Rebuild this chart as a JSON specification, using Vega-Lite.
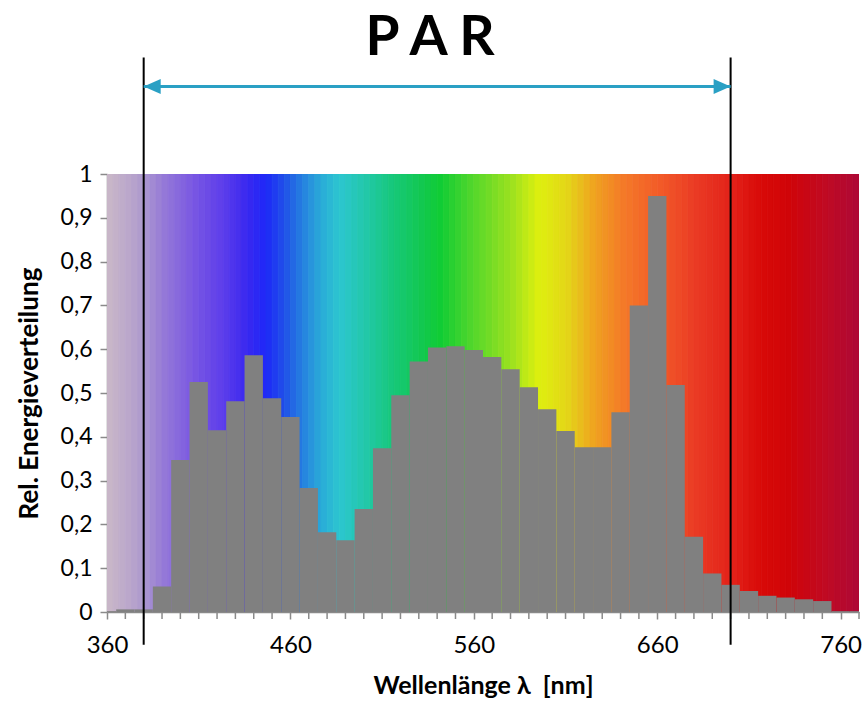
{
  "$schema": "https://vega.github.io/schema/vega-lite/v6.json",
  "autosize": {"type": "none"},
  "padding": {"left": 107, "top": 174, "right": 5, "bottom": 92},
  "width": 752,
  "height": 438,
  "background": "white",
  "title": {
    "text": "P A R",
    "font": "Lato",
    "fontSize": 55,
    "fontWeight": "bold",
    "color": "#000000",
    "anchor": "middle",
    "frame": "group",
    "dx": -53,
    "offset": -11
  },
  "config": {
    "view": {"stroke": null},
    "axis": {"grid": false, "labelFont": "Lato", "titleFont": "Lato", "labelColor": "#000000", "titleColor": "#000000", "domainColor": "#8a8a8a", "tickColor": "#8a8a8a", "domainWidth": 1.5, "tickWidth": 1.5, "labelOverlap": false, "labelFlush": false}
  },
  "datasets": {
    "stripes": [
      {"a":360,"b":363.33},{"a":363.33,"b":366.67},{"a":366.67,"b":370},
      {"a":370,"b":373.33},{"a":373.33,"b":376.67},{"a":376.67,"b":380},
      {"a":380,"b":383.33},{"a":383.33,"b":386.67},{"a":386.67,"b":390},
      {"a":390,"b":393.33},{"a":393.33,"b":396.67},{"a":396.67,"b":400},
      {"a":400,"b":403.33},{"a":403.33,"b":406.67},{"a":406.67,"b":410},
      {"a":410,"b":413.33},{"a":413.33,"b":416.67},{"a":416.67,"b":420},
      {"a":420,"b":423.33},{"a":423.33,"b":426.67},{"a":426.67,"b":430},
      {"a":430,"b":433.33},{"a":433.33,"b":436.67},{"a":436.67,"b":440},
      {"a":440,"b":443.33},{"a":443.33,"b":446.67},{"a":446.67,"b":450},
      {"a":450,"b":453.33},{"a":453.33,"b":456.67},{"a":456.67,"b":460},
      {"a":460,"b":463.33},{"a":463.33,"b":466.67},{"a":466.67,"b":470},
      {"a":470,"b":473.33},{"a":473.33,"b":476.67},{"a":476.67,"b":480},
      {"a":480,"b":483.33},{"a":483.33,"b":486.67},{"a":486.67,"b":490},
      {"a":490,"b":493.33},{"a":493.33,"b":496.67},{"a":496.67,"b":500},
      {"a":500,"b":503.33},{"a":503.33,"b":506.67},{"a":506.67,"b":510},
      {"a":510,"b":513.33},{"a":513.33,"b":516.67},{"a":516.67,"b":520},
      {"a":520,"b":523.33},{"a":523.33,"b":526.67},{"a":526.67,"b":530},
      {"a":530,"b":533.33},{"a":533.33,"b":536.67},{"a":536.67,"b":540},
      {"a":540,"b":543.33},{"a":543.33,"b":546.67},{"a":546.67,"b":550},
      {"a":550,"b":553.33},{"a":553.33,"b":556.67},{"a":556.67,"b":560},
      {"a":560,"b":563.33},{"a":563.33,"b":566.67},{"a":566.67,"b":570},
      {"a":570,"b":573.33},{"a":573.33,"b":576.67},{"a":576.67,"b":580},
      {"a":580,"b":583.33},{"a":583.33,"b":586.67},{"a":586.67,"b":590},
      {"a":590,"b":593.33},{"a":593.33,"b":596.67},{"a":596.67,"b":600},
      {"a":600,"b":603.33},{"a":603.33,"b":606.67},{"a":606.67,"b":610},
      {"a":610,"b":613.33},{"a":613.33,"b":616.67},{"a":616.67,"b":620},
      {"a":620,"b":623.33},{"a":623.33,"b":626.67},{"a":626.67,"b":630},
      {"a":630,"b":633.33},{"a":633.33,"b":636.67},{"a":636.67,"b":640},
      {"a":640,"b":643.33},{"a":643.33,"b":646.67},{"a":646.67,"b":650},
      {"a":650,"b":653.33},{"a":653.33,"b":656.67},{"a":656.67,"b":660},
      {"a":660,"b":663.33},{"a":663.33,"b":666.67},{"a":666.67,"b":670},
      {"a":670,"b":673.33},{"a":673.33,"b":676.67},{"a":676.67,"b":680},
      {"a":680,"b":683.33},{"a":683.33,"b":686.67},{"a":686.67,"b":690},
      {"a":690,"b":693.33},{"a":693.33,"b":696.67},{"a":696.67,"b":700},
      {"a":700,"b":703.33},{"a":703.33,"b":706.67},{"a":706.67,"b":710},
      {"a":710,"b":713.33},{"a":713.33,"b":716.67},{"a":716.67,"b":720},
      {"a":720,"b":723.33},{"a":723.33,"b":726.67},{"a":726.67,"b":730},
      {"a":730,"b":733.33},{"a":733.33,"b":736.67},{"a":736.67,"b":740},
      {"a":740,"b":743.33},{"a":743.33,"b":746.67},{"a":746.67,"b":750},
      {"a":750,"b":753.33},{"a":753.33,"b":756.67},{"a":756.67,"b":760},
      {"a":760,"b":763.33},{"a":763.33,"b":766.67},{"a":766.67,"b":770}
    ],
    "bars": [
      {"lo":360,"hi":365,"v":0.002},{"lo":365,"hi":375,"v":0.006},{"lo":375,"hi":385,"v":0.006},
      {"lo":385,"hi":395,"v":0.058},{"lo":395,"hi":405,"v":0.347},{"lo":405,"hi":415,"v":0.525},
      {"lo":415,"hi":425,"v":0.415},{"lo":425,"hi":435,"v":0.481},{"lo":435,"hi":445,"v":0.586},
      {"lo":445,"hi":455,"v":0.488},{"lo":455,"hi":465,"v":0.445},{"lo":465,"hi":475,"v":0.283},
      {"lo":475,"hi":485,"v":0.182},{"lo":485,"hi":495,"v":0.164},{"lo":495,"hi":505,"v":0.235},
      {"lo":505,"hi":515,"v":0.374},{"lo":515,"hi":525,"v":0.495},{"lo":525,"hi":535,"v":0.572},
      {"lo":535,"hi":545,"v":0.604},{"lo":545,"hi":555,"v":0.607},{"lo":555,"hi":565,"v":0.598},
      {"lo":565,"hi":575,"v":0.582},{"lo":575,"hi":585,"v":0.554},{"lo":585,"hi":595,"v":0.513},
      {"lo":595,"hi":605,"v":0.463},{"lo":605,"hi":615,"v":0.413},{"lo":615,"hi":625,"v":0.376},
      {"lo":625,"hi":635,"v":0.376},{"lo":635,"hi":645,"v":0.456},{"lo":645,"hi":655,"v":0.70},
      {"lo":655,"hi":665,"v":0.95},{"lo":665,"hi":675,"v":0.518},{"lo":675,"hi":685,"v":0.172},
      {"lo":685,"hi":695,"v":0.088},{"lo":695,"hi":705,"v":0.062},{"lo":705,"hi":715,"v":0.048},
      {"lo":715,"hi":725,"v":0.037},{"lo":725,"hi":735,"v":0.033},{"lo":735,"hi":745,"v":0.029},
      {"lo":745,"hi":755,"v":0.025},{"lo":755,"hi":765,"v":0.002},{"lo":765,"hi":770,"v":0.002}
    ],
    "minorTicks": [
      {"w":370},{"w":380},{"w":390},{"w":400},{"w":410},{"w":420},{"w":430},{"w":440},{"w":450},
      {"w":470},{"w":480},{"w":490},{"w":500},{"w":510},{"w":520},{"w":530},{"w":540},{"w":550},
      {"w":570},{"w":580},{"w":590},{"w":600},{"w":610},{"w":620},{"w":630},{"w":640},{"w":650},
      {"w":670},{"w":680},{"w":690},{"w":700},{"w":710},{"w":720},{"w":730},{"w":740},{"w":750},
      {"w":770}
    ],
    "lines": [
      {"w":380,"y0":-0.075,"y1":1.266},
      {"w":700,"y0":-0.075,"y1":1.266}
    ],
    "arrow": [
      {"from":380,"to":700,"y":1.2}
    ],
    "heads": [
      {"w":380,"y":1.2,"side":"left"},
      {"w":700,"y":1.2,"side":"right"}
    ]
  },
  "layer": [
    {
      "data": {"name": "stripes"},
      "mark": {"type": "rect", "clip": true, "strokeWidth": 0.8},
      "encoding": {
        "x": {
          "field": "a", "type": "quantitative",
          "scale": {"domain": [360, 770], "nice": false, "zero": false},
          "axis": {
            "values": [360,460,560,660,760],
            "format": "d",
            "labelOverlap": false,
            "labelFlush": false,
            "labelFontSize": 24,
            "labelPadding": 14,
            "tickSize": 7,
            "title": "Wellenlänge λ \u00a0[nm]",
            "titleFontSize": 25,
            "titleFontWeight": "bold",
            "titlePadding": 16
          }
        },
        "x2": {"field": "b"},
        "y": {"datum": 0, "type": "quantitative",
          "scale": {"domain": [0, 1], "nice": false, "zero": true},
          "axis": {
            "values": [0,0.1,0.2,0.3,0.4,0.5,0.6,0.7,0.8,0.9,1],
            "labelExpr": "replace(format(datum.value, '~g'), '.', ',')",
            "labelFlush": false,
            "labelOverlap": false,
            "labelFontSize": 23,
            "labelPadding": 8,
            "tickSize": 7,
            "title": "Rel. Energieverteilung",
            "titleFontSize": 26,
            "titleFontWeight": "bold",
            "titlePadding": 18
          }
        },
        "y2": {"datum": 1},
        "color": {
          "field": "a", "type": "quantitative", "legend": null,
          "scale": {
            "domain": [360,375,390,405,420,435,445,455,465,475,485,500,515,530,540,560,580,594,610,625,640,660,680,700,715,730,750,770],
            "range": ["#c8b6c8","#b4a0cc","#9478d8","#7a58e2","#6040ea","#3a28f0","#1e28f8","#2050e8","#2580e0","#2aaad8","#2cc6d0","#22c8a8","#16c878","#12c850","#10cc35","#5ad82a","#a0e21e","#def00e","#e4d418","#f0a020","#f47a28","#f25a28","#ea3a24","#e22018","#d80a08","#d00408","#c00a22","#ac0838"],
            "interpolate": "rgb"
          }
        },
        "stroke": {
          "field": "a", "type": "quantitative", "legend": null,
          "scale": {
            "domain": [360,375,390,405,420,435,445,455,465,475,485,500,515,530,540,560,580,594,610,625,640,660,680,700,715,730,750,770],
            "range": ["#c8b6c8","#b4a0cc","#9478d8","#7a58e2","#6040ea","#3a28f0","#1e28f8","#2050e8","#2580e0","#2aaad8","#2cc6d0","#22c8a8","#16c878","#12c850","#10cc35","#5ad82a","#a0e21e","#def00e","#e4d418","#f0a020","#f47a28","#f25a28","#ea3a24","#e22018","#d80a08","#d00408","#c00a22","#ac0838"],
            "interpolate": "rgb"
          }
        }
      }
    },
    {
      "data": {"name": "bars"},
      "mark": {"type": "rect", "color": "#808080"},
      "encoding": {
        "x": {"field": "lo", "type": "quantitative"},
        "x2": {"field": "hi"},
        "y": {"field": "v", "type": "quantitative"},
        "y2": {"datum": 0}
      }
    },
    {
      "data": {"name": "minorTicks"},
      "mark": {"type": "rule", "color": "#8a8a8a", "strokeWidth": 1.5, "clip": false},
      "encoding": {
        "x": {"field": "w", "type": "quantitative"},
        "y": {"datum": 0, "type": "quantitative"},
        "y2": {"datum": -0.016}
      }
    },
    {
      "data": {"name": "lines"},
      "mark": {"type": "rule", "color": "#000000", "strokeWidth": 2, "clip": false},
      "encoding": {
        "x": {"field": "w", "type": "quantitative"},
        "y": {"field": "y0", "type": "quantitative"},
        "y2": {"field": "y1"}
      }
    },
    {
      "data": {"name": "arrow"},
      "mark": {"type": "rule", "color": "#2aa0c4", "strokeWidth": 3, "clip": false},
      "encoding": {
        "x": {"field": "from", "type": "quantitative"},
        "x2": {"field": "to"},
        "y": {"field": "y", "type": "quantitative"}
      }
    },
    {
      "data": {"name": "heads"},
      "transform": [{"filter": "datum.side == 'left'"}],
      "mark": {"type": "point", "shape": "M-1,0 L1,-0.88 L1,0.88 Z", "filled": true, "size": 289, "color": "#2aa0c4", "opacity": 1, "xOffset": 8.5, "clip": false},
      "encoding": {
        "x": {"field": "w", "type": "quantitative"},
        "y": {"field": "y", "type": "quantitative"}
      }
    },
    {
      "data": {"name": "heads"},
      "transform": [{"filter": "datum.side == 'right'"}],
      "mark": {"type": "point", "shape": "M1,0 L-1,-0.88 L-1,0.88 Z", "filled": true, "size": 289, "color": "#2aa0c4", "opacity": 1, "xOffset": -8.5, "clip": false},
      "encoding": {
        "x": {"field": "w", "type": "quantitative"},
        "y": {"field": "y", "type": "quantitative"}
      }
    }
  ]
}
